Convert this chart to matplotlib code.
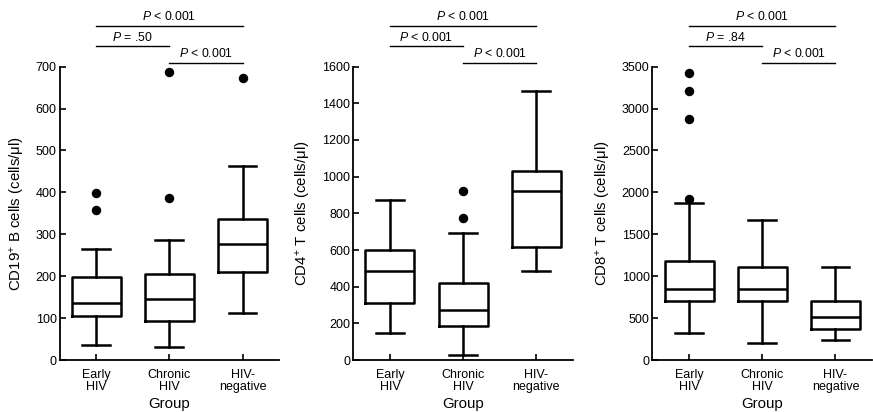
import matplotlib
matplotlib.use("Agg")
import matplotlib.pyplot as plt
import matplotlib.transforms as mtrans

plt.rcParams["font.family"] = ["Liberation Sans", "DejaVu Sans"]
plt.rcParams["mathtext.fontset"] = "custom"
plt.rcParams["mathtext.rm"] = "Liberation Sans"
plt.rcParams["mathtext.it"] = "Liberation Sans:italic"

groups = ["Early\nHIV", "Chronic\nHIV", "HIV-\nnegative"]

# CD19+ B cells
cd19_lo = [37, 32, 112]
cd19_q1 = [106, 94, 209]
cd19_med = [136, 145, 277]
cd19_q3 = [198, 206, 337]
cd19_hi = [266, 286, 463]
cd19_out = [[399, 359], [387, 688], [674]]
cd19_p = ["< 0.001", "= .50", "< 0.001"]

# CD4+ T cells
cd4_lo = [147, 29, 485]
cd4_q1 = [309, 187, 616]
cd4_med = [485, 271, 922]
cd4_q3 = [600, 420, 1033]
cd4_hi = [871, 691, 1469]
cd4_out = [[], [773, 922], []]
cd4_p = ["< 0.001", "< 0.001", "< 0.001"]

# CD8+ T cells
cd8_lo = [326, 207, 239]
cd8_q1 = [704, 704, 374]
cd8_med = [847, 847, 517]
cd8_q3 = [1181, 1114, 700]
cd8_hi = [1869, 1670, 1106]
cd8_out = [[1917, 2879, 3205, 3424], [], []]
cd8_p = ["< 0.001", "= .84", "< 0.001"]

panels = [
    (cd19_lo, cd19_q1, cd19_med, cd19_q3, cd19_hi, cd19_out, cd19_p,
     "CD19$^{+}$ B cells (cells/\u03bcl)", 700, 100),
    (cd4_lo, cd4_q1, cd4_med, cd4_q3, cd4_hi, cd4_out, cd4_p,
     "CD4$^{+}$ T cells (cells/\u03bcl)", 1600, 200),
    (cd8_lo, cd8_q1, cd8_med, cd8_q3, cd8_hi, cd8_out, cd8_p,
     "CD8$^{+}$ T cells (cells/\u03bcl)", 3500, 500),
]
lefts = [0.0682, 0.4047, 0.7474]

fig = plt.figure(figsize=(8.73, 4.12), dpi=100)
for left, (lo, q1, med, q3, hi, out, pv, ylab, ymax, step) in zip(lefts, panels):
    ax = fig.add_axes([left, 0.1262, 0.2515, 0.712])
    stats = [dict(whislo=lo[i], q1=q1[i], med=med[i], q3=q3[i], whishi=hi[i],
                  fliers=out[i]) for i in range(3)]
    lw = 1.8
    ax.bxp(stats, positions=[1, 2, 3], widths=0.67, capwidths=0.38,
           boxprops=dict(color="black", linewidth=lw),
           medianprops=dict(color="black", linewidth=lw),
           whiskerprops=dict(color="black", linewidth=lw),
           capprops=dict(color="black", linewidth=lw),
           flierprops=dict(marker="o", markerfacecolor="black",
                           markeredgecolor="black", markersize=5.8))
    ax.set_xlim(0.5, 3.5)
    ax.set_ylim(0, ymax)
    ax.set_yticks(range(0, ymax + 1, step))
    ax.set_xticks([1, 2, 3])
    ax.set_xticklabels(groups, fontsize=9, linespacing=0.95)
    ax.tick_params(axis="y", labelsize=9, direction="in", length=4, width=1.2, pad=2)
    ax.tick_params(axis="x", direction="in", length=4, width=1.2, pad=6.5)
    for s in ["top", "right"]:
        ax.spines[s].set_visible(False)
    for s in ["left", "bottom"]:
        ax.spines[s].set_linewidth(1.3)
    ax.set_ylabel(ylab, fontsize=10.8, labelpad=6.5)
    ax.set_xlabel("Group", fontsize=10.8, labelpad=3)

    # significance brackets
    tr = mtrans.blended_transform_factory(ax.transData, ax.transAxes)
    for (a, b), y, txt in zip([(1, 3), (1, 2), (2, 3)], [1.140, 1.070, 1.014], pv):
        ax.plot([a, b], [y, y], color="black", lw=1.0, transform=tr, clip_on=False)
        ax.text((a + b) / 2, y + 0.008, "$P$ " + txt, transform=tr,
                ha="center", va="bottom", fontsize=8.8)

fig.savefig("out.png", dpi=100)
